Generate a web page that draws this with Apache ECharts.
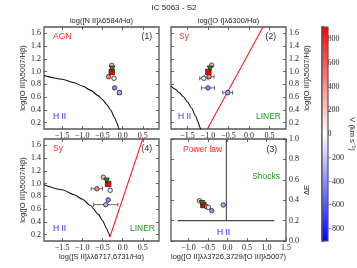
<!DOCTYPE html>
<html><head><meta charset="utf-8">
<script src="https://cdn.jsdelivr.net/npm/echarts@6/dist/echarts.min.js"></script>
<style>html,body{margin:0;padding:0;background:#fff}#c{width:357px;height:268px}</style>
</head><body><div id="c"></div>
<script>
// ---- data ----
const regionNames = ['R1','R2','R3','R4','R5','R6','R7'];
const velocity   = [250, null, 900, 450, -100, -400, -300]; // null = integrated spectrum (green)
const markers    = ['circle','triangle','rect','circle','circle','circle','circle'];
const o3hb       = [1.10, 1.045, 0.995, 0.92, 0.895, 0.745, 0.67];
const o3hbErr    = [0, 0, 0, 0, 0, 0, 0.03];
const n2ha       = [-0.27, -0.26, -0.27, -0.35, -0.215, -0.20, -0.08];
const n2haErr    = [0, 0, 0, 0, 0, 0.02, 0.04];
const o1ha       = [-0.91, -0.95, -0.99, -0.97, -1.10, -1.0, -0.52];
const o1haErr    = [0, 0, 0, 0.12, 0.10, 0.16, 0.12];
const s2ha       = [-0.48, -0.40, -0.36, -0.64, -0.31, -0.36, -0.42];
const s2haErr    = [0, 0, 0, 0.14, 0, 0.02, 0.30];
const o2o3       = [-0.72, -0.655, -0.62, -0.535, -0.49, -0.405, -0.11];
const deltaE     = [0.395, 0.37, 0.353, 0.336, 0.33, 0.297, 0.353];

// demarcation lines
const n2CurveX = [-1.95, -1.5, -1.2, -1.0, -0.8, -0.6, -0.5, -0.4, -0.3, -0.2, -0.15, -0.1, -0.07];
const n2CurveY = [0.938, 0.880, 0.825, 0.775, 0.710, 0.620, 0.561, 0.489, 0.398, 0.280, 0.206, 0.120, 0.060];
const o1CurveX = [-1.9, -1.8, -1.7, -1.6, -1.5, -1.4, -1.3, -1.25, -1.2, -1.17];
const o1CurveY = [0.773, 0.727, 0.672, 0.607, 0.528, 0.429, 0.302, 0.224, 0.133, 0.071];
const o1LinerX = [-1.10, 0.40];
const o1LinerY = [0.00, 1.77];
const s2CurveX = [-1.95, -1.5, -1.2, -1.0, -0.8, -0.6, -0.5, -0.4, -0.35, -0.315];
const s2CurveY = [0.983, 0.904, 0.826, 0.755, 0.657, 0.517, 0.422, 0.300, 0.225, 0.166];
const s2LinerX = [-0.315, 0.55];
const s2LinerY = [0.166, 1.80];
const dEHorizX = [-1.28, 1.20];
const dEHorizY = [0.2, 0.2];
const dEVertX  = [-0.03, -0.03];
const dEVertY  = [0.2, 1.0];

// tick values
const bptYTicks  = [0.2, 0.4, 0.6, 0.8, 1.0, 1.2, 1.4, 1.6];
const bptXTicks  = [-1.5, -1.0, -0.5, 0.0, 0.5];
const o2o3Ticks  = [-1.0, -0.5, 0.0, 0.5, 1.0, 1.5];
const dETicks    = [0.0, 0.2, 0.4, 0.6, 0.8, 1.0];
const velTicks   = [-800, -600, -400, -200, 0, 200, 400, 600, 800];
const velRange   = [-900, 900];

// ---- chart ----
const chart = echarts.init(document.getElementById('c'), null, {renderer: 'canvas'});
const SERIF = 'Liberation Serif';
const SANS = 'Liberation Sans';
const fmt1 = v => (v < 0 ? '\u2212' : '') + Math.abs(v).toFixed(1);
const fmt0 = v => (v < 0 ? '\u2212' : '') + Math.abs(v).toFixed(0);

const tickStyle = {inside: true, length: 3, lineStyle: {color: '#444', width: 0.8}};
function axis(o) {
  const a = {
    type: 'value', gridIndex: o.grid, min: o.min, max: o.max, position: o.position,
    axisLine: {show: false, onZero: false}, splitLine: {show: false},
    axisTick: Object.assign({customValues: o.ticks}, tickStyle),
    axisLabel: {show: !!o.labels, customValues: o.ticks, formatter: o.fmt || fmt1,
      fontFamily: SERIF, fontSize: 8, color: '#222', margin: 3},
  };
  if (o.name) {
    a.name = o.name; a.nameLocation = 'middle'; a.nameGap = o.nameGap;
    a.nameRotate = o.nameRotate;
    a.nameTextStyle = {fontFamily: SANS, fontSize: 7.5, color: '#222'};
  }
  return a;
}

const cbBox = {left: 322, top: 27, width: 6, height: 214};
const grids = [
  {left: 44, top: 27, width: 115, height: 102},
  {left: 171, top: 27, width: 115, height: 102},
  {left: 44, top: 139, width: 115, height: 102},
  {left: 171, top: 139, width: 115, height: 102},
  cbBox,
].map(g => Object.assign({show: true, borderColor: '#555', borderWidth: 1.3, backgroundColor: 'transparent'}, g));

const xAxes = [
  axis({grid: 0, min: -1.95, max: 0.9, position: 'bottom', ticks: bptXTicks, labels: true}),
  axis({grid: 0, min: -1.95, max: 0.9, position: 'top', ticks: bptXTicks, name: 'log([N II]\u03bb6584/H\u03b1)', nameGap: 2}),
  axis({grid: 1, min: -1.9, max: 0.9, position: 'bottom', ticks: bptXTicks, labels: true}),
  axis({grid: 1, min: -1.9, max: 0.9, position: 'top', ticks: bptXTicks, name: 'log([O I]\u03bb6300/H\u03b1)', nameGap: 2}),
  axis({grid: 2, min: -1.95, max: 0.9, position: 'bottom', ticks: bptXTicks, labels: true, name: 'log([S II]\u03bb\u03bb6717,6731/H\u03b1)', nameGap: 12}),
  axis({grid: 2, min: -1.95, max: 0.9, position: 'top', ticks: bptXTicks}),
  axis({grid: 3, min: -1.45, max: 1.5, position: 'bottom', ticks: o2o3Ticks, labels: true, name: 'log([O II]\u03bb\u03bb3726,3729/[O III]\u03bb5007)', nameGap: 12}),
  axis({grid: 3, min: -1.45, max: 1.5, position: 'top', ticks: o2o3Ticks}),
  {type: 'value', gridIndex: 4, min: 0, max: 1, show: false},
];
const o3name = 'log([O III]\u03bb5007/H\u03b2)';
const yAxes = [
  axis({grid: 0, min: 0.1, max: 1.7, position: 'left', ticks: bptYTicks, labels: true, name: o3name, nameGap: 17, nameRotate: 90}),
  axis({grid: 0, min: 0.1, max: 1.7, position: 'right', ticks: bptYTicks}),
  axis({grid: 1, min: 0.1, max: 1.7, position: 'right', ticks: bptYTicks, labels: true, name: o3name, nameGap: 15, nameRotate: 90}),
  axis({grid: 1, min: 0.1, max: 1.7, position: 'left', ticks: bptYTicks}),
  axis({grid: 2, min: 0.1, max: 1.7, position: 'left', ticks: bptYTicks, labels: true, name: o3name, nameGap: 17, nameRotate: 90}),
  axis({grid: 2, min: 0.1, max: 1.7, position: 'right', ticks: bptYTicks}),
  axis({grid: 3, min: 0, max: 1, position: 'right', ticks: dETicks, labels: true, name: '\u0394E', nameGap: 10, nameRotate: 90}),
  axis({grid: 3, min: 0, max: 1, position: 'left', ticks: dETicks}),
  axis({grid: 4, min: velRange[0], max: velRange[1], position: 'right', ticks: velTicks, labels: true, fmt: fmt0, name: 'V (km s\u207b\u00b9)', nameGap: 15, nameRotate: -90}),
];
yAxes[8].axisLabel.margin = 4;
yAxes[8].axisTick.length = 2;

function zip(xs, ys) { return xs.map((x, i) => [x, ys[i]]); }

function errRender(params, api) {
  const x = api.value(0), y = api.value(1), ex = api.value(2), ey = api.value(3);
  const st = {stroke: '#444', lineWidth: 0.8};
  const ch = [];
  if (ex > 0) {
    const a = api.coord([x - ex, y]), b = api.coord([x + ex, y]);
    ch.push({type: 'line', shape: {x1: a[0], y1: a[1], x2: b[0], y2: b[1]}, style: st});
    ch.push({type: 'line', shape: {x1: a[0], y1: a[1] - 2, x2: a[0], y2: a[1] + 2}, style: st});
    ch.push({type: 'line', shape: {x1: b[0], y1: b[1] - 2, x2: b[0], y2: b[1] + 2}, style: st});
  }
  if (ey > 0) {
    const a = api.coord([x, y - ey]), b = api.coord([x, y + ey]);
    ch.push({type: 'line', shape: {x1: a[0], y1: a[1], x2: b[0], y2: b[1]}, style: st});
    ch.push({type: 'line', shape: {x1: a[0] - 2, y1: a[1], x2: a[0] + 2, y2: a[1]}, style: st});
    ch.push({type: 'line', shape: {x1: b[0] - 2, y1: b[1], x2: b[0] + 2, y2: b[1]}, style: st});
  }
  return {type: 'group', children: ch};
}

const series = [];
const mappedIdx = [];
function addPanel(xi, yi, xs, ys, xerr, yerr, lines) {
  lines.forEach(l => series.push({
    type: 'line', xAxisIndex: xi, yAxisIndex: yi, data: zip(l.x, l.y), showSymbol: false,
    smooth: l.smooth ? 0.25 : false, smoothMonotone: 'x', clip: true, silent: true,
    lineStyle: {color: l.color, width: 1.1}, z: 2,
  }));
  if (xerr || yerr) {
    series.push({
      type: 'custom', xAxisIndex: xi, yAxisIndex: yi, renderItem: errRender, z: 3, clip: true,
      data: xs.map((x, i) => [x, ys[i], xerr ? xerr[i] : 0, yerr ? yerr[i] : 0]),
      encode: {x: 0, y: 1},
    });
  }
  const mapped = [], special = [];
  xs.forEach((x, i) => {
    const item = {name: regionNames[i], value: [x, ys[i], velocity[i]], symbol: markers[i],
      symbolSize: markers[i] === 'rect' ? 5.5 : 4.5};
    if (velocity[i] === null) special.push(Object.assign(item, {symbolSize: 5.5, symbolRotate: 180}));
    else mapped.push(item);
  });
  mappedIdx.push(series.length);
  series.push({type: 'scatter', xAxisIndex: xi, yAxisIndex: yi, data: mapped, z: 5,
    itemStyle: {borderColor: '#111', borderWidth: 0.7, opacity: 1}});
  series.push({type: 'scatter', xAxisIndex: xi, yAxisIndex: yi, data: special, z: 6,
    itemStyle: {color: '#1f8a1f', borderColor: '#111', borderWidth: 0.7, opacity: 1}});
}

addPanel(0, 0, n2ha, o3hb, n2haErr, o3hbErr, [{x: n2CurveX, y: n2CurveY, color: '#111', smooth: true}]);
addPanel(2, 2, o1ha, o3hb, o1haErr, o3hbErr, [
  {x: o1CurveX, y: o1CurveY, color: '#111', smooth: true},
  {x: o1LinerX, y: o1LinerY, color: '#ff2020'}]);
addPanel(4, 4, s2ha, o3hb, s2haErr, null, [
  {x: s2CurveX, y: s2CurveY, color: '#111', smooth: true},
  {x: s2LinerX, y: s2LinerY, color: '#ff2020'}]);
addPanel(6, 6, o2o3, deltaE, null, null, [
  {x: dEHorizX, y: dEHorizY, color: '#444'},
  {x: dEVertX, y: dEVertY, color: '#444'}]);

function txt(x, y, text, color, size, align) {
  return {type: 'text', x: x, y: y, silent: true, z: 10,
    style: {text: text, fill: color, fontFamily: SANS, fontSize: size || 8.5,
      align: align || 'left', verticalAlign: 'middle'}};
}
const RED = '#ff2a2a', BLUE = '#2a2aff', GREEN = '#1e9a1e';
const cmap = ['#0000ff', '#ffffff', '#ff0000'];
const annotations = [
  // colour bar (same colour ramp as the visualMap)
  {type: 'rect', z: 1, silent: true,
    shape: {x: cbBox.left, y: cbBox.top, width: cbBox.width, height: cbBox.height},
    style: {fill: new echarts.graphic.LinearGradient(0, 0, 0, 1, [
      {offset: 0, color: cmap[2]}, {offset: 0.5, color: cmap[1]}, {offset: 1, color: cmap[0]}]),
      stroke: '#555', lineWidth: 1.2}},
  txt(174, 8, 'IC 5063 - S2', '#222', 8, 'center'),
  txt(53, 37, 'AGN', RED), txt(152, 37, '(1)', '#222', 8.5, 'right'), txt(53, 117, 'H II', BLUE),
  txt(179, 37, 'Sy', RED), txt(276, 37, '(2)', '#222', 8.5, 'right'), txt(178, 117, 'H II', BLUE),
  txt(281, 117, 'LINER', GREEN, 8.5, 'right'),
  txt(53, 149, 'Sy', RED), txt(152, 149, '(4)', '#222', 8.5, 'right'), txt(53, 229, 'H II', BLUE),
  txt(155, 229, 'LINER', GREEN, 8.5, 'right'),
  txt(183, 150, 'Power law', RED), txt(277, 150, '(3)', '#222', 8.5, 'right'),
  txt(280, 177, 'Shocks', GREEN, 8.5, 'right'), txt(217, 233, 'H II', BLUE),
];

chart.setOption({
  animation: false,
  backgroundColor: '#fff',
  grid: grids,
  xAxis: xAxes,
  yAxis: yAxes,
  visualMap: {
    type: 'continuous', show: false, min: velRange[0], max: velRange[1], dimension: 2,
    seriesIndex: mappedIdx, inRange: {color: cmap},
  },
  graphic: annotations,
  series: series,
});
</script>
</body></html>
